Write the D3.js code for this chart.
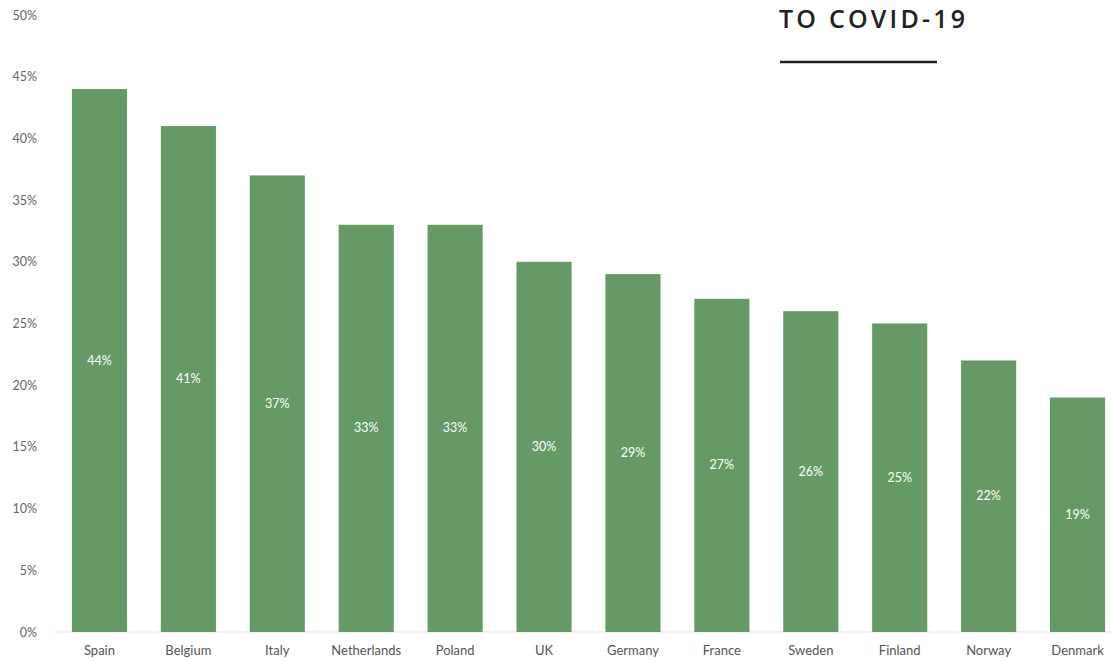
<!DOCTYPE html>
<html>
<head>
<meta charset="utf-8">
<script src="https://cdn.jsdelivr.net/npm/d3@7"></script>
<style>
  body { margin: 0; background: #fff; }
  svg { display: block; font-family: Lato, "Open Sans", sans-serif; }
</style>
</head>
<body>
<div id="chart"></div>
<script>
const countries = ["Spain", "Belgium", "Italy", "Netherlands", "Poland", "UK",
  "Germany", "France", "Sweden", "Finland", "Norway", "Denmark"];
const shares = [44, 41, 37, 33, 33, 30, 29, 27, 26, 25, 22, 19];
const yTicks = [0, 5, 10, 15, 20, 25, 30, 35, 40, 45, 50];

const width = 1111, height = 661;

const svg = d3.select("#chart")
  .append("svg")
  .attr("width", width)
  .attr("height", height);

const x = d3.scaleBand()
  .domain(countries)
  .range([55, 1122])
  .paddingInner(0.38)
  .paddingOuter(0.19);

const y = d3.scaleLinear()
  .domain([0, 50])
  .range([632, 15]);

// title fragment top right
svg.append("text")
  .attr("x", 779)
  .attr("y", 28)
  .attr("font-size", 25)
  .attr("font-weight", 600)
  .attr("letter-spacing", 3.2)
  .attr("font-family", "'Open Sans', sans-serif")
  .attr("fill", "#222")
  .text("TO COVID-19");

svg.append("line")
  .attr("x1", 780).attr("x2", 937)
  .attr("y1", 62).attr("y2", 62)
  .attr("stroke", "#222")
  .attr("stroke-width", 2.5);

// axe y
const yAxis = svg.append("g")
  .attr("transform", "translate(40,0)")
  .call(d3.axisLeft(y).tickValues(yTicks).tickFormat(d => d + "%").tickSize(0));
yAxis.select(".domain").remove();
yAxis.selectAll("text")
  .attr("font-size", 12.5)
  .attr("font-family", "Lato, 'Open Sans', sans-serif")
  .attr("fill", "#666");

// baseline
svg.append("line")
  .attr("x1", 55).attr("x2", width)
  .attr("y1", y(0)).attr("y2", y(0))
  .attr("stroke", "#ddd")
  .attr("stroke-width", 1);

// barre
const data = countries.map((c, i) => ({ country: c, value: shares[i] }));

svg.append("g")
  .selectAll("rect")
  .data(data)
  .join("rect")
  .attr("x", d => x(d.country))
  .attr("y", d => y(d.value))
  .attr("width", x.bandwidth())
  .attr("height", d => y(0) - y(d.value))
  .attr("fill", "#659965");

// etichette nelle barre
svg.append("g")
  .selectAll("text")
  .data(data)
  .join("text")
  .attr("x", d => x(d.country) + x.bandwidth() / 2)
  .attr("y", d => (y(d.value) + y(0)) / 2 + 4)
  .attr("text-anchor", "middle")
  .attr("font-size", 12.5)
  .attr("fill", "#fff")
  .text(d => d.value + "%");

// asse x
const xAxis = svg.append("g")
  .attr("transform", `translate(0,${y(0)})`)
  .call(d3.axisBottom(x).tickSize(0).tickPadding(14));
xAxis.select(".domain").remove();
xAxis.selectAll("text")
  .attr("font-size", 13)
  .attr("font-family", "Lato, 'Open Sans', sans-serif")
  .attr("fill", "#555");
</script>
</body>
</html>
